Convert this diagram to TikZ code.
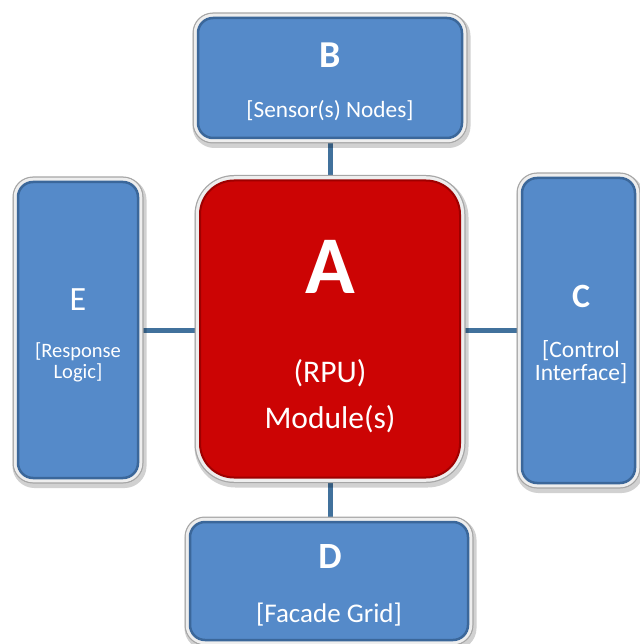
\documentclass[tikz,border=0pt]{standalone}
\usepackage{fontspec}
\setmainfont{Carlito}
\usetikzlibrary{backgrounds}
\definecolor{boxblue}{HTML}{558AC9}
\definecolor{boxedge}{HTML}{3B679A}
\definecolor{redfill}{HTML}{CC0404}
\definecolor{rededge}{HTML}{9E0000}
\definecolor{framelight}{HTML}{EEEEEE}
\definecolor{framedark}{HTML}{A6A6A6}
\definecolor{linkblue}{HTML}{41719C}
\tikzset{
  framed/.style={rectangle, inner sep=0pt,
    preaction={draw=black, draw opacity=0.18, line width=14pt, transform canvas={shift={(1.5pt,-3pt)}}},
    preaction={draw=framedark, line width=11pt},
    preaction={draw=framelight, line width=8.5pt}},
  bluebox/.style={framed, rounded corners=15pt, fill=boxblue, draw=boxedge, line width=2.5pt},
  redbox/.style={framed, rounded corners=34pt, fill=redfill, draw=rededge, line width=2pt},
  txt/.style={text=white, anchor=base, inner sep=0pt},
  link/.style={draw=linkblue, line width=5pt},
}
\begin{document}
\begin{tikzpicture}[x=1pt,y=-1pt]
\useasboundingbox (0,0) rectangle (639,644);
\node[redbox, minimum width=260pt, minimum height=297pt] (A) at (330,329) {};
\node[bluebox, minimum width=264pt, minimum height=120pt] (B) at (330,78) {};
\node[bluebox, minimum width=113pt, minimum height=305pt] (C) at (578.5,330.5) {};
\node[bluebox, minimum width=278pt, minimum height=118pt] (D) at (329,581) {};
\node[bluebox, minimum width=120pt, minimum height=296pt] (E) at (78,330) {};

\begin{scope}[on background layer]
  \draw[link] (B) -- (A);
  \draw[link] (A) -- (A |- D);
  \draw[link] (E) -- (E -| A);
  \draw[link] (C) -- (C -| A);
\end{scope}

\node[txt, font=\fontsize{82}{82}\selectfont\bfseries] (At) at (330,293) {A};
\node[txt, font=\fontsize{31.5}{32}\selectfont] (As1) at (330,382) {(RPU)};
\node[txt, font=\fontsize{31.5}{32}\selectfont] (As2) at (330,428) {Module(s)};

\node[txt, font=\fontsize{38}{38}\selectfont\bfseries] (Bt) at (330,68) {B};
\node[txt, font=\fontsize{23.3}{24}\selectfont] (Bs) at (330,118) {[Sensor(s) Nodes]};

\node[txt, font=\fontsize{34}{34}\selectfont\bfseries] (Ct) at (581,307) {C};
\node[txt, font=\fontsize{23.5}{24}\selectfont] (Cs1) at (581,357) {[Control};
\node[txt, font=\fontsize{23.5}{24}\selectfont] (Cs2) at (581,380) {Interface]};

\node[txt, font=\fontsize{37}{37}\selectfont\bfseries] (Dt) at (330,568) {D};
\node[txt, font=\fontsize{27}{28}\selectfont] (Ds) at (329,622) {[Facade Grid]};

\node[txt, font=\fontsize{34}{34}\selectfont] (Et) at (78,310) {E};
\node[txt, font=\fontsize{20.5}{21}\selectfont] (Es1) at (78,357) {[Response};
\node[txt, font=\fontsize{20.5}{21}\selectfont] (Es2) at (78,378) {Logic]};
\end{tikzpicture}
\end{document}
